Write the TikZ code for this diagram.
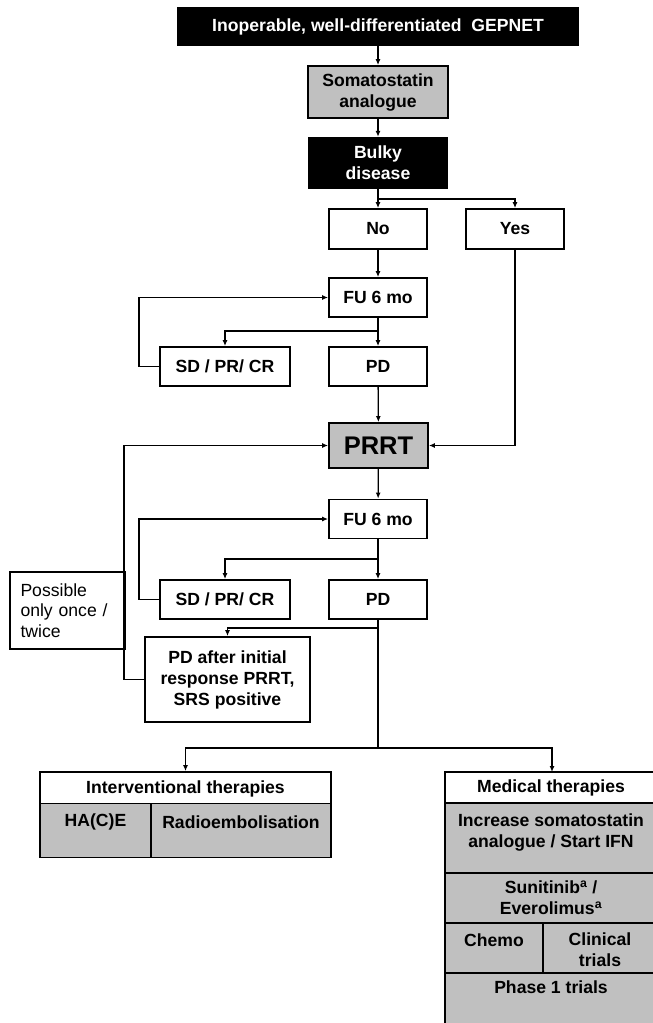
\documentclass[tikz,border=0pt]{standalone}
\usepackage{fontspec}
\setmainfont{Liberation Sans}
\usetikzlibrary{arrows.meta}
\definecolor{boxgray}{RGB}{192,192,192}
\begin{document}
\begin{tikzpicture}[x=1pt,y=-1pt,
  every node/.style={font=\fontsize{17.6}{21}\selectfont\bfseries, align=center, inner sep=0pt},
  wbox/.style={draw=black, line width=1.8pt, fill=white, minimum width=98pt, minimum height=39pt},
  gbox/.style={wbox, fill=boxgray},
  bbox/.style={fill=black, text=white, minimum width=140pt, minimum height=52pt},
  cell/.style={draw=black, line width=1.8pt, fill=boxgray},
  hcell/.style={draw=black, line width=1.8pt, fill=white},
  conn/.style={line width=1.3pt},
  arr/.style={conn, -{Latex[length=6pt,width=5pt]}},
]
\useasboundingbox (0,0) rectangle (653,1023);

% main column
\node[bbox, minimum width=402pt, minimum height=39pt] (top) at (378,26.5) {Inoperable, well-differentiated\ \ GEPNET};
\node[gbox, minimum width=140pt, minimum height=52pt] (soma) at (378,92) {Somatostatin\\analogue};
\node[bbox] (bulky) at (378,163) {Bulky\\disease};
\node[wbox, minimum height=40pt] (no) at (378,229) {No};
\node[wbox, minimum height=40pt] (yes) at (515,229) {Yes};
\node[wbox] (fu1) at (378,297.5) {FU 6 mo};
\node[wbox, minimum width=130pt] (sd1) at (225,366.5) {SD / PR/ CR};
\node[wbox] (pd1) at (378,366.5) {PD};
\node[gbox, minimum width=99pt, minimum height=45pt, font=\fontsize{25.5}{30}\selectfont\bfseries] (prrt) at (378.5,445.5) {PRRT};
\node[wbox] (fu2) at (378,519) {FU 6 mo};
\node[wbox, minimum width=130pt] (sd2) at (225,599.5) {SD / PR/ CR};
\node[wbox] (pd2) at (378,599.5) {PD};
\node[wbox, minimum width=165pt, minimum height=85pt] (pda) at (227.5,679.5) {PD after initial\\response PRRT,\\SRS positive};
\node[wbox, minimum width=115pt, minimum height=77pt, text width=94pt, align=left,
      font=\fontsize{17.6}{20.5}\selectfont] (poss) at (67.5,610.5) {Possible\\only once /\\twice};

% interventional therapies
\node[hcell, minimum width=291pt, minimum height=32pt] (ivh) at (185.5,788) {};
\node[cell, minimum width=111pt, minimum height=54pt] (hace) at (95.5,830.5) {};
\node[cell, minimum width=180pt, minimum height=54pt] (radio) at (241,830.5) {};
\node (ivht) at (185.5,789) {Interventional therapies};
\node (hacet) at (95.5,822) {HA(C)E};
\node (radiot) at (241,822) {Radioembolisation};

% medical therapies (runs past the right and bottom edges)
\node[hcell, minimum width=225pt, minimum height=31pt] (medh) at (557.5,787.5) {};
\node[cell, minimum width=225pt, minimum height=70pt] (incr) at (557.5,838) {};
\node[cell, minimum width=225pt, minimum height=50pt] (suni) at (557.5,898) {};
\node[cell, minimum width=98pt, minimum height=50pt] (chemo) at (494,948) {};
\node[cell, minimum width=127pt, minimum height=50pt] (clin) at (606.5,948) {};
\node[cell, minimum width=225pt, minimum height=70pt] (phase) at (557.5,1008) {};
\node (medht) at (551,788) {Medical therapies};
\node (incrt) at (551,832.5) {Increase somatostatin\\analogue / Start IFN};
\node (sunit) at (551,897.5) {Sunitinib\textsuperscript{a} /\\Everolimus\textsuperscript{a}};
\node (chemot) at (494,940) {Chemo};
\node (clint) at (600,950) {Clinical\\trials};
\node (phaset) at (551,987) {Phase 1 trials};

% connectors
\coordinate (ys) at (378,199);
\coordinate (sp1) at (378,331);
\coordinate (sp2) at (378,559);
\coordinate (sp3) at (378,628);
\coordinate (sp4) at (378,748);
\coordinate (medin) at (552,772);

\draw[arr] (top) -- (soma);
\draw[arr] (soma) -- (bulky);
\draw[arr] (bulky) -- (no);
\draw[arr] (ys) -| (yes);
\draw[arr] (no) -- (fu1);
\draw[arr] (fu1) -- (pd1);
\draw[arr] (sp1) -| (sd1);
\draw[arr] (sd1.west) -- ++(-20,0) |- (fu1.west);
\draw[arr] (pd1) -- (prrt);
\draw[arr] (yes) |- (prrt);
\draw[arr] (prrt) -- (fu2);
\draw[arr] (fu2) -- (pd2);
\draw[arr] (sp2) -| (sd2);
\draw[arr] (sd2.west) -- ++(-20,0) |- (fu2.west);
\draw[arr] (sp3) -| (pda);
\draw[arr] (pda.west) -- ++(-20,0) |- (prrt.west);
\draw[conn] (pd2) -- (sp4);
\draw[arr] (sp4) -| (ivh);
\draw[arr] (sp4) -| (medin);
\end{tikzpicture}
\end{document}
